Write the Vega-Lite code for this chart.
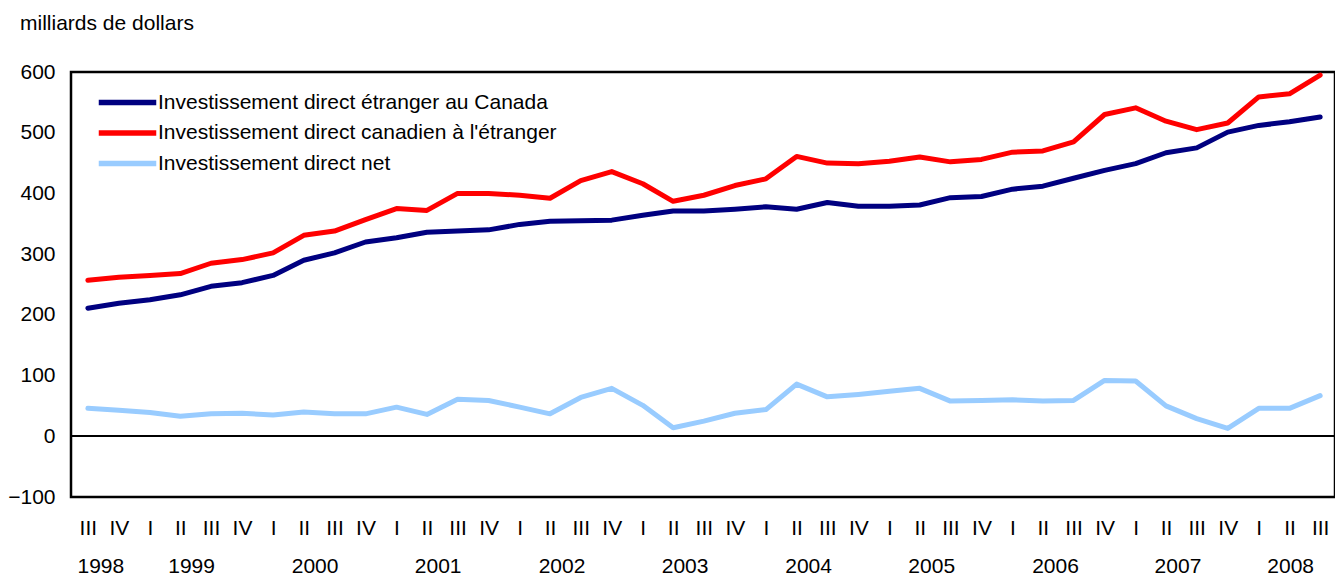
{
  "$schema": "https://vega.github.io/schema/vega-lite/v6.json",
  "autosize": {"type": "none"},
  "padding": {"left": 71, "top": 72, "right": 0, "bottom": 78},
  "width": 1264,
  "height": 425,
  "background": "white",
  "config": {
    "font": "Liberation Sans",
    "view": {"stroke": "black", "strokeWidth": 2.5},
    "axis": {"labelFont": "Liberation Sans", "labelFontSize": 21, "labelColor": "black", "grid": false, "ticks": false, "tickSize": 0, "domain": false, "title": null, "labelFlush": false, "labelOverlap": false}
  },
  "title": {"text": "milliards de dollars", "anchor": "start", "frame": "group", "dx": -51, "offset": 10, "baseline": "alphabetic", "fontSize": 21, "fontWeight": "normal", "font": "Liberation Sans", "color": "black"},
  "data": {"values": [
    {"date":"1998-07-01","serie":"Investissement direct étranger au Canada","valeur":211},
    {"date":"1998-10-01","serie":"Investissement direct étranger au Canada","valeur":219},
    {"date":"1999-01-01","serie":"Investissement direct étranger au Canada","valeur":225},
    {"date":"1999-04-01","serie":"Investissement direct étranger au Canada","valeur":233},
    {"date":"1999-07-01","serie":"Investissement direct étranger au Canada","valeur":247},
    {"date":"1999-10-01","serie":"Investissement direct étranger au Canada","valeur":253},
    {"date":"2000-01-01","serie":"Investissement direct étranger au Canada","valeur":265},
    {"date":"2000-04-01","serie":"Investissement direct étranger au Canada","valeur":290},
    {"date":"2000-07-01","serie":"Investissement direct étranger au Canada","valeur":302},
    {"date":"2000-10-01","serie":"Investissement direct étranger au Canada","valeur":320},
    {"date":"2001-01-01","serie":"Investissement direct étranger au Canada","valeur":327},
    {"date":"2001-04-01","serie":"Investissement direct étranger au Canada","valeur":336},
    {"date":"2001-07-01","serie":"Investissement direct étranger au Canada","valeur":338},
    {"date":"2001-10-01","serie":"Investissement direct étranger au Canada","valeur":340},
    {"date":"2002-01-01","serie":"Investissement direct étranger au Canada","valeur":349},
    {"date":"2002-04-01","serie":"Investissement direct étranger au Canada","valeur":354},
    {"date":"2002-07-01","serie":"Investissement direct étranger au Canada","valeur":355},
    {"date":"2002-10-01","serie":"Investissement direct étranger au Canada","valeur":356},
    {"date":"2003-01-01","serie":"Investissement direct étranger au Canada","valeur":364},
    {"date":"2003-04-01","serie":"Investissement direct étranger au Canada","valeur":371},
    {"date":"2003-07-01","serie":"Investissement direct étranger au Canada","valeur":371},
    {"date":"2003-10-01","serie":"Investissement direct étranger au Canada","valeur":374},
    {"date":"2004-01-01","serie":"Investissement direct étranger au Canada","valeur":378},
    {"date":"2004-04-01","serie":"Investissement direct étranger au Canada","valeur":374},
    {"date":"2004-07-01","serie":"Investissement direct étranger au Canada","valeur":385},
    {"date":"2004-10-01","serie":"Investissement direct étranger au Canada","valeur":379},
    {"date":"2005-01-01","serie":"Investissement direct étranger au Canada","valeur":379},
    {"date":"2005-04-01","serie":"Investissement direct étranger au Canada","valeur":381},
    {"date":"2005-07-01","serie":"Investissement direct étranger au Canada","valeur":393},
    {"date":"2005-10-01","serie":"Investissement direct étranger au Canada","valeur":395},
    {"date":"2006-01-01","serie":"Investissement direct étranger au Canada","valeur":407},
    {"date":"2006-04-01","serie":"Investissement direct étranger au Canada","valeur":412},
    {"date":"2006-07-01","serie":"Investissement direct étranger au Canada","valeur":425},
    {"date":"2006-10-01","serie":"Investissement direct étranger au Canada","valeur":438},
    {"date":"2007-01-01","serie":"Investissement direct étranger au Canada","valeur":449},
    {"date":"2007-04-01","serie":"Investissement direct étranger au Canada","valeur":467},
    {"date":"2007-07-01","serie":"Investissement direct étranger au Canada","valeur":475},
    {"date":"2007-10-01","serie":"Investissement direct étranger au Canada","valeur":501},
    {"date":"2008-01-01","serie":"Investissement direct étranger au Canada","valeur":512},
    {"date":"2008-04-01","serie":"Investissement direct étranger au Canada","valeur":518},
    {"date":"2008-07-01","serie":"Investissement direct étranger au Canada","valeur":526},
    {"date":"1998-07-01","serie":"Investissement direct canadien à l'étranger","valeur":257},
    {"date":"1998-10-01","serie":"Investissement direct canadien à l'étranger","valeur":262},
    {"date":"1999-01-01","serie":"Investissement direct canadien à l'étranger","valeur":265},
    {"date":"1999-04-01","serie":"Investissement direct canadien à l'étranger","valeur":268},
    {"date":"1999-07-01","serie":"Investissement direct canadien à l'étranger","valeur":285},
    {"date":"1999-10-01","serie":"Investissement direct canadien à l'étranger","valeur":291},
    {"date":"2000-01-01","serie":"Investissement direct canadien à l'étranger","valeur":302},
    {"date":"2000-04-01","serie":"Investissement direct canadien à l'étranger","valeur":331},
    {"date":"2000-07-01","serie":"Investissement direct canadien à l'étranger","valeur":338},
    {"date":"2000-10-01","serie":"Investissement direct canadien à l'étranger","valeur":357},
    {"date":"2001-01-01","serie":"Investissement direct canadien à l'étranger","valeur":375},
    {"date":"2001-04-01","serie":"Investissement direct canadien à l'étranger","valeur":372},
    {"date":"2001-07-01","serie":"Investissement direct canadien à l'étranger","valeur":400},
    {"date":"2001-10-01","serie":"Investissement direct canadien à l'étranger","valeur":400},
    {"date":"2002-01-01","serie":"Investissement direct canadien à l'étranger","valeur":397},
    {"date":"2002-04-01","serie":"Investissement direct canadien à l'étranger","valeur":392},
    {"date":"2002-07-01","serie":"Investissement direct canadien à l'étranger","valeur":421},
    {"date":"2002-10-01","serie":"Investissement direct canadien à l'étranger","valeur":436},
    {"date":"2003-01-01","serie":"Investissement direct canadien à l'étranger","valeur":416},
    {"date":"2003-04-01","serie":"Investissement direct canadien à l'étranger","valeur":387},
    {"date":"2003-07-01","serie":"Investissement direct canadien à l'étranger","valeur":397},
    {"date":"2003-10-01","serie":"Investissement direct canadien à l'étranger","valeur":413},
    {"date":"2004-01-01","serie":"Investissement direct canadien à l'étranger","valeur":424},
    {"date":"2004-04-01","serie":"Investissement direct canadien à l'étranger","valeur":461},
    {"date":"2004-07-01","serie":"Investissement direct canadien à l'étranger","valeur":450},
    {"date":"2004-10-01","serie":"Investissement direct canadien à l'étranger","valeur":449},
    {"date":"2005-01-01","serie":"Investissement direct canadien à l'étranger","valeur":453},
    {"date":"2005-04-01","serie":"Investissement direct canadien à l'étranger","valeur":460},
    {"date":"2005-07-01","serie":"Investissement direct canadien à l'étranger","valeur":452},
    {"date":"2005-10-01","serie":"Investissement direct canadien à l'étranger","valeur":456},
    {"date":"2006-01-01","serie":"Investissement direct canadien à l'étranger","valeur":468},
    {"date":"2006-04-01","serie":"Investissement direct canadien à l'étranger","valeur":470},
    {"date":"2006-07-01","serie":"Investissement direct canadien à l'étranger","valeur":485},
    {"date":"2006-10-01","serie":"Investissement direct canadien à l'étranger","valeur":530},
    {"date":"2007-01-01","serie":"Investissement direct canadien à l'étranger","valeur":541},
    {"date":"2007-04-01","serie":"Investissement direct canadien à l'étranger","valeur":519},
    {"date":"2007-07-01","serie":"Investissement direct canadien à l'étranger","valeur":505},
    {"date":"2007-10-01","serie":"Investissement direct canadien à l'étranger","valeur":516},
    {"date":"2008-01-01","serie":"Investissement direct canadien à l'étranger","valeur":559},
    {"date":"2008-04-01","serie":"Investissement direct canadien à l'étranger","valeur":564},
    {"date":"2008-07-01","serie":"Investissement direct canadien à l'étranger","valeur":595},
    {"date":"1998-07-01","serie":"Investissement direct net","valeur":46},
    {"date":"1998-10-01","serie":"Investissement direct net","valeur":43},
    {"date":"1999-01-01","serie":"Investissement direct net","valeur":39},
    {"date":"1999-04-01","serie":"Investissement direct net","valeur":33},
    {"date":"1999-07-01","serie":"Investissement direct net","valeur":37},
    {"date":"1999-10-01","serie":"Investissement direct net","valeur":38},
    {"date":"2000-01-01","serie":"Investissement direct net","valeur":35},
    {"date":"2000-04-01","serie":"Investissement direct net","valeur":40},
    {"date":"2000-07-01","serie":"Investissement direct net","valeur":37},
    {"date":"2000-10-01","serie":"Investissement direct net","valeur":37},
    {"date":"2001-01-01","serie":"Investissement direct net","valeur":48},
    {"date":"2001-04-01","serie":"Investissement direct net","valeur":36},
    {"date":"2001-07-01","serie":"Investissement direct net","valeur":61},
    {"date":"2001-10-01","serie":"Investissement direct net","valeur":59},
    {"date":"2002-01-01","serie":"Investissement direct net","valeur":48},
    {"date":"2002-04-01","serie":"Investissement direct net","valeur":37},
    {"date":"2002-07-01","serie":"Investissement direct net","valeur":64},
    {"date":"2002-10-01","serie":"Investissement direct net","valeur":79},
    {"date":"2003-01-01","serie":"Investissement direct net","valeur":51},
    {"date":"2003-04-01","serie":"Investissement direct net","valeur":14},
    {"date":"2003-07-01","serie":"Investissement direct net","valeur":25},
    {"date":"2003-10-01","serie":"Investissement direct net","valeur":38},
    {"date":"2004-01-01","serie":"Investissement direct net","valeur":44},
    {"date":"2004-04-01","serie":"Investissement direct net","valeur":86},
    {"date":"2004-07-01","serie":"Investissement direct net","valeur":65},
    {"date":"2004-10-01","serie":"Investissement direct net","valeur":69},
    {"date":"2005-01-01","serie":"Investissement direct net","valeur":74},
    {"date":"2005-04-01","serie":"Investissement direct net","valeur":79},
    {"date":"2005-07-01","serie":"Investissement direct net","valeur":58},
    {"date":"2005-10-01","serie":"Investissement direct net","valeur":59},
    {"date":"2006-01-01","serie":"Investissement direct net","valeur":60},
    {"date":"2006-04-01","serie":"Investissement direct net","valeur":58},
    {"date":"2006-07-01","serie":"Investissement direct net","valeur":59},
    {"date":"2006-10-01","serie":"Investissement direct net","valeur":92},
    {"date":"2007-01-01","serie":"Investissement direct net","valeur":91},
    {"date":"2007-04-01","serie":"Investissement direct net","valeur":50},
    {"date":"2007-07-01","serie":"Investissement direct net","valeur":29},
    {"date":"2007-10-01","serie":"Investissement direct net","valeur":13},
    {"date":"2008-01-01","serie":"Investissement direct net","valeur":46},
    {"date":"2008-04-01","serie":"Investissement direct net","valeur":46},
    {"date":"2008-07-01","serie":"Investissement direct net","valeur":67}
  ]},
  "layer": [
    {
      "mark": {"type": "line", "strokeWidth": 5, "strokeJoin": "round", "strokeCap": "round"},
      "encoding": {
        "x": {
          "field": "date", "type": "temporal",
          "scale": {"type": "utc", "domain": [{"year": 1998, "month": 5, "date": 12, "utc": true}, {"year": 2008, "month": 8, "date": 14, "utc": true}], "nice": false},
          "axis": {"orient": "bottom", "tickCount": {"interval": "month", "step": 3}, "labelExpr": "['I','II','III','IV'][utcquarter(datum.value)-1]", "labelPadding": 20, "labelAlign": "center", "labelBaseline": "top"}
        },
        "y": {
          "field": "valeur", "type": "quantitative",
          "scale": {"domain": [-100, 600], "nice": false, "zero": false},
          "axis": {"values": [-100, 0, 100, 200, 300, 400, 500, 600], "labelPadding": 16}
        },
        "color": {
          "field": "serie", "type": "nominal",
          "scale": {"domain": ["Investissement direct étranger au Canada", "Investissement direct canadien à l'étranger", "Investissement direct net"], "range": ["#000080", "#ff0000", "#99ccff"]},
          "legend": {"title": null, "orient": "none", "direction": "vertical", "legendX": 42, "legendY": 16, "padding": 0, "symbolType": "M-2.5,0H2.5", "symbolSize": 529, "symbolStrokeWidth": 5.5, "labelFontSize": 21, "labelFont": "Liberation Sans", "labelColor": "black", "labelOffset": 16, "rowPadding": 4.5, "labelLimit": 800}
        }
      }
    },
    {
      "mark": {"type": "rule", "color": "black", "strokeWidth": 1.5},
      "encoding": {
        "x": {
          "datum": {"year": 1998, "month": 5, "date": 12, "utc": true}, "type": "temporal",
          "axis": {"orient": "bottom", "values": [
            {"year": 1998, "month": 8, "date": 7, "utc": true},
            {"year": 1999, "month": 5, "date": 3, "utc": true},
            {"year": 2000, "month": 5, "date": 3, "utc": true},
            {"year": 2001, "month": 5, "date": 3, "utc": true},
            {"year": 2002, "month": 5, "date": 5, "utc": true},
            {"year": 2003, "month": 5, "date": 5, "utc": true},
            {"year": 2004, "month": 5, "date": 5, "utc": true},
            {"year": 2005, "month": 5, "date": 5, "utc": true},
            {"year": 2006, "month": 5, "date": 7, "utc": true},
            {"year": 2007, "month": 5, "date": 5, "utc": true},
            {"year": 2008, "month": 4, "date": 3, "utc": true}
          ], "labelExpr": "utcFormat(datum.value, '%Y')", "labelPadding": 58, "labelAlign": "center", "labelBaseline": "top"}
        },
        "x2": {"datum": {"year": 2008, "month": 8, "date": 14, "utc": true}},
        "y": {"datum": 0}
      }
    }
  ],
  "resolve": {"axis": {"x": "independent"}}
}
